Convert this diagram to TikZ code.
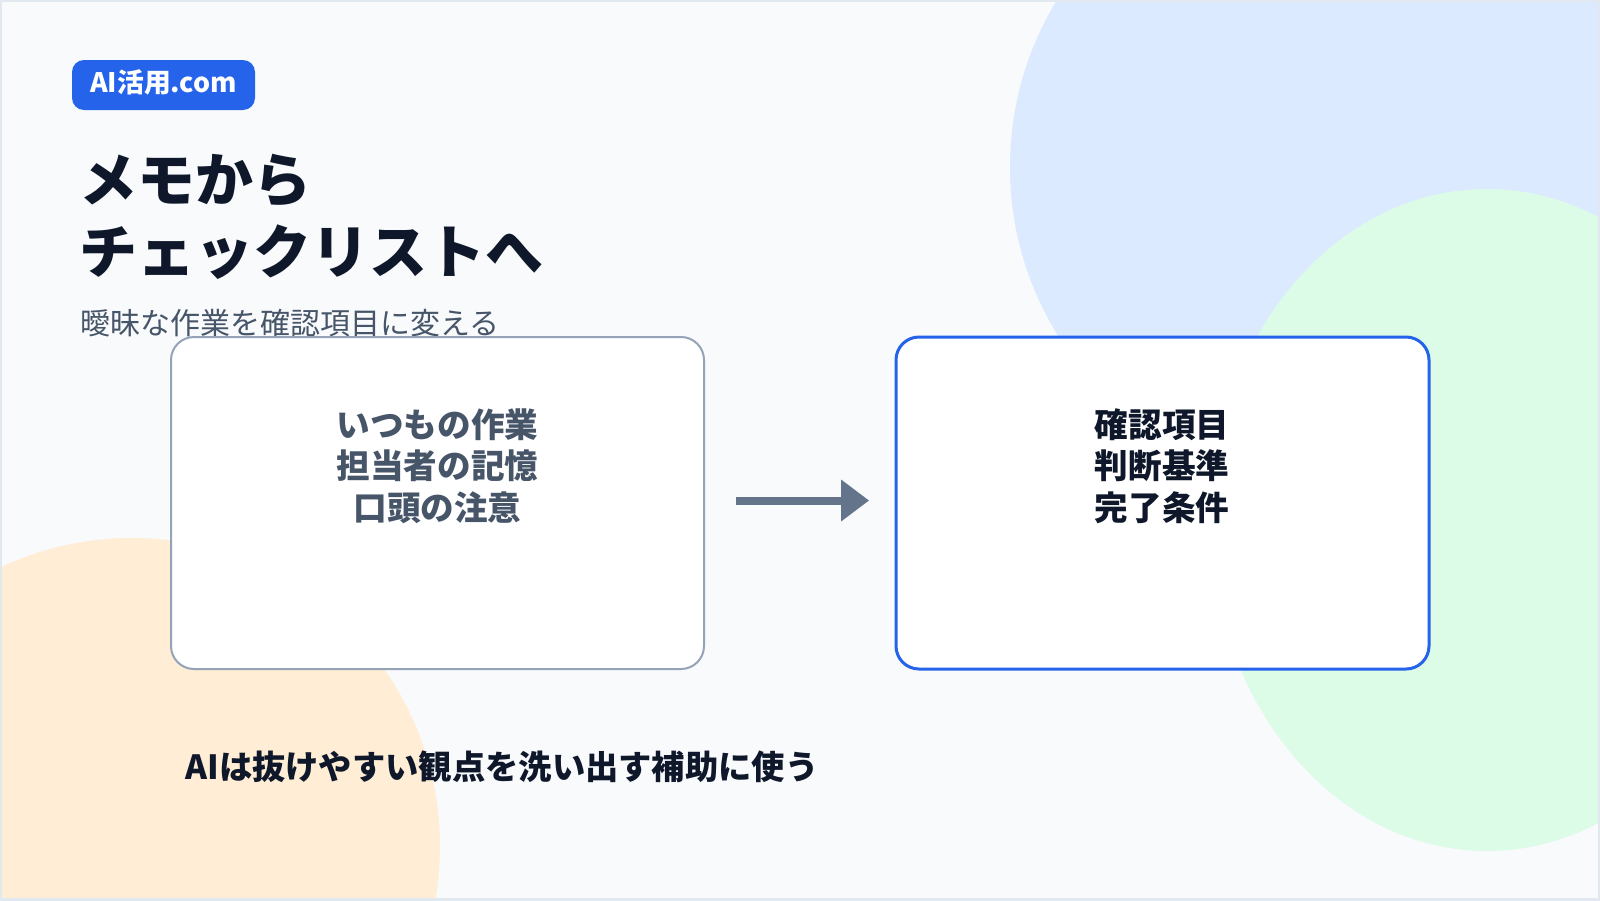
\documentclass[tikz,border=0pt]{standalone}
\usepackage{fontspec}
\setmainfont{Noto Sans CJK JP}
\usetikzlibrary{arrows.meta}
\definecolor{bg}{HTML}{F8FAFC}
\definecolor{framegray}{HTML}{E2E8F0}
\definecolor{circblue}{HTML}{DBEAFE}
\definecolor{circgreen}{HTML}{DCFCE7}
\definecolor{circorange}{HTML}{FFEDD5}
\definecolor{badgeblue}{HTML}{2563EB}
\definecolor{ink}{HTML}{0F172A}
\definecolor{slate}{HTML}{475569}
\definecolor{cardgray}{HTML}{94A3B8}
\definecolor{cardblue}{HTML}{2563EB}
\definecolor{arrowgray}{HTML}{64748B}
\tikzset{
  badge/.style={fill=badgeblue, rounded corners=6pt, minimum width=91.5pt, minimum height=25pt, inner sep=0pt},
  badgetext/.style={inner sep=0pt, text=white, font=\bfseries\fontsize{13.4}{16}\selectfont},
  titletext/.style={inner sep=0pt, text=ink, font=\bfseries\fontsize{29}{34}\selectfont},
  subtext/.style={inner sep=0pt, text=slate, font=\fontsize{15}{18}\selectfont},
  card/.style={fill=white, rounded corners=11.5pt, minimum width=266.5pt, minimum height=166pt, inner sep=0pt},
  cardtext/.style={inner sep=0pt, align=center, font=\bfseries\fontsize{16.8}{20.75}\selectfont},
  flow/.style={draw=arrowgray, line width=4pt, -{Triangle[length=14pt,width=20pt]}, shorten <=15.5pt, shorten >=12.7pt},
  note/.style={inner sep=0pt, text=ink, font=\bfseries\fontsize{16.65}{20}\selectfont}
}
\begin{document}
\begin{tikzpicture}[x=0.5pt,y=-0.5pt]
\useasboundingbox (0,0) rectangle (1600,900);
\fill[bg] (0,0) rectangle (1600,900);
\fill[circblue] (1330,167) circle[radius=160pt];
\fill[circgreen] (1487,520) ellipse[x radius=138pt, y radius=165.5pt];
\fill[circorange] (132,846) circle[radius=154pt];
\draw[framegray, line width=2pt] (0,0) rectangle (1600,900);

\node[badge] (badge) at (163.5,85) {};
\node[badgetext] (badgelabel) at (163.5,82) {AI活用.com};
\node[titletext, anchor=west] (title1) at (79,181) {メモから};
\node[titletext, anchor=west] (title2) at (79,252) {チェックリストへ};
\node[subtext, anchor=west] (sub) at (80,323) {曖昧な作業を確認項目に変える};

\node[card, draw=cardgray, line width=1pt] (lbox) at (437.5,503) {};
\node[card, draw=cardblue, line width=1.5pt] (rbox) at (1162.5,503) {};
\node[cardtext, text=slate] (ltext) at (437.5,466) {いつもの作業\\担当者の記憶\\口頭の注意};
\node[cardtext, text=ink] (rtext) at (1162,466) {確認項目\\判断基準\\完了条件};
\draw[flow] ([yshift=1.25pt]lbox.east) -- ([yshift=1.25pt]rbox.west);

\node[note, anchor=west] (note) at (185,767) {AIは抜けやすい観点を洗い出す補助に使う};
\end{tikzpicture}
\end{document}
